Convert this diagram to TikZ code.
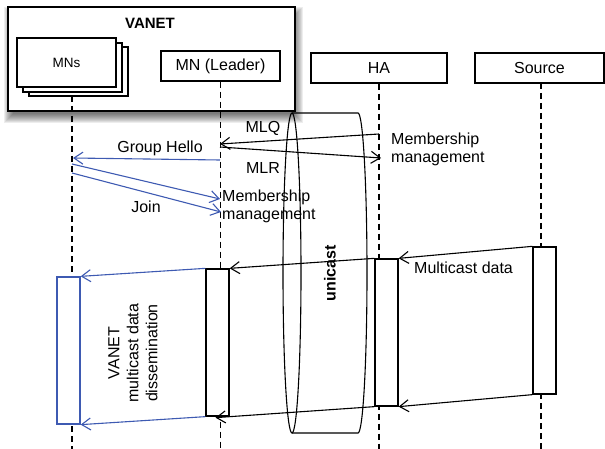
\documentclass[tikz,border=0pt]{standalone}
\usepackage{fontspec}
\setmainfont{Liberation Sans}
\usetikzlibrary{arrows.meta,calc}
\definecolor{vblue}{RGB}{62,90,178}
\begin{document}
\begin{tikzpicture}[x=1pt,y=-1pt,
  every node/.style={font=\fontsize{16}{18}\selectfont, inner sep=0pt},
  box/.style={draw, line width=1.3pt, fill=white, minimum height=30pt},
  life/.style={line width=1.2pt, dash pattern=on 6pt off 4pt},
  msg/.style={line width=1.1pt, -{Straight Barb[length=9pt,width=12pt,line width=1.1pt]}},
  bmsg/.style={msg, vblue},
  bar/.style={draw, line width=1.3pt, fill=white, minimum width=23pt, minimum height=147pt},
  lbl/.style={align=left, anchor=west}]
\useasboundingbox (0,0) rectangle (605,449);

% VANET frame with soft shadow
\foreach \e in {-3,...,6} \fill[black, opacity=0.07] (10-\e,13-\e) rectangle (297+\e,117+\e);
\node[draw, line width=2pt, fill=white, minimum width=287pt, minimum height=104pt] (vanet) at (151.5,59) {};
\node[font=\bfseries\fontsize{15}{18}\selectfont] (vanettitle) at (150,23) {VANET};

% MNs stack
\node[box, minimum width=99pt, minimum height=49pt] (mns3) at (78.5,71.5) {};
\node[box, minimum width=99pt, minimum height=49pt] (mns2) at (72.5,67.5) {};
\node[box, minimum width=99pt, minimum height=49pt, font=\fontsize{13.5}{16}\selectfont] (mns) at (66.5,62.5) {MNs};
\node[box, minimum width=119pt] (leader) at (220.5,66) {MN (Leader)};
\node[box, minimum width=136pt] (ha) at (379,68) {HA};
\node[box, minimum width=129pt] (src) at (539.5,68) {Source};

% lifelines
\coordinate (mnsT) at (72,96);
\coordinate (mnsB) at (72,449);
\coordinate (ldB) at (220.5,449);
\coordinate (haB) at (379,449);
\coordinate (srcT) at (541,83);
\coordinate (srcB) at (541,449);
\draw[life] (mnsT) -- (mnsB);
\draw[life] (leader.south) -- (ldB);
\draw[life] (ha.south) -- (haB);
\draw[life] (srcT) -- (srcB);

% unicast cylinder
\draw[line width=1.1pt] (292,273) ellipse [x radius=9, y radius=160];
\draw[line width=1.1pt] (292,113) -- (358,113) arc[start angle=-90, end angle=90, x radius=9, y radius=160] -- (292,433);
\node[font=\bfseries\fontsize{16}{18}\selectfont, rotate=90] (uni) at (330,273) {unicast};

% membership signalling
\coordinate (mlqS) at (379,134);
\coordinate (mlqE) at (220,144);
\coordinate (mlrS) at (220,147);
\coordinate (mlrE) at (381,158);
\draw[msg] (mlqS) -- (mlqE);
\draw[msg] (mlrS) -- (mlrE);
\node (mlq) at (263,128) {MLQ};
\node (mlr) at (263,168) {MLR};
\node[lbl] (mm1) at (391,149) {Membership\\management};

\coordinate (ghS) at (220,160);
\coordinate (ghE) at (73,158);
\coordinate (j1S) at (72,164);
\coordinate (j1E) at (220,199);
\coordinate (j2S) at (72,173);
\coordinate (j2E) at (221,212);
\draw[bmsg] (ghS) -- (ghE);
\draw[bmsg] (j1S) -- (j1E);
\draw[bmsg] (j2S) -- (j2E);
\node (gh) at (160,148) {Group Hello};
\node (join) at (146,207) {Join};
\node[lbl] (mm2) at (222,206) {Membership\\management};

% activation bars
\node[bar] (ldbar) at (217.5,342.5) {};
\node[bar] (habar) at (386.5,332.5) {};
\node[bar] (srcbar) at (544.5,320.5) {};
\node[bar, draw=vblue] (mnsbar) at (68.5,350.5) {};

% data flow
\draw[msg] (srcbar.north west) -- (habar.north east);
\draw[msg] (srcbar.south west) -- (habar.south east);
\draw[msg] (habar.north west) -- (ldbar.north east);
\draw[msg] (habar.south west) -- ($(ldbar.south)+(-2,1)$);
\draw[bmsg] (ldbar.north west) -- (mnsbar.north east);
\draw[bmsg] (ldbar.south west) -- (mnsbar.south east);
\node[lbl] (mcd) at (414,268) {Multicast data};
\node[rotate=90, align=center, font=\fontsize{16}{19}\selectfont] (vmd) at (133,353) {VANET\\multicast data\\dissemination};
\end{tikzpicture}
\end{document}
